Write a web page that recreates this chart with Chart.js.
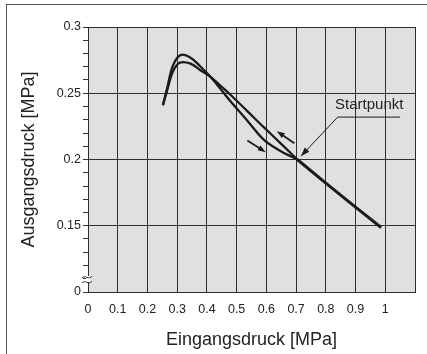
<!DOCTYPE html>
<html>
<head>
<meta charset="utf-8">
<script src="https://cdn.jsdelivr.net/npm/chart.js@4/dist/chart.umd.min.js"></script>
<style>
  html, body { margin: 0; padding: 0; background: #fff; }
  #wrap { position: relative; width: 427px; height: 354px; }
  #frame { position: absolute; left: 6px; top: 4px; right: -2px; bottom: -2px; border-top: 1.5px solid #555; border-left: 1.5px solid #555; pointer-events: none; }
  canvas { position: absolute; left: 0; top: 0; }
</style>
</head>
<body>
<div id="wrap">
  <canvas id="c" width="427" height="354"></canvas>
  <div id="frame"></div>
</div>
<script>
// ---- data ----
// Branch A: higher peak, then lower path down to the start point
const branchAx = [0.252, 0.266, 0.285, 0.311, 0.345, 0.378, 0.412, 0.446, 0.480, 0.536, 0.592, 0.649, 0.704];
const branchAy = [0.241, 0.2535, 0.2705, 0.2788, 0.2768, 0.2702, 0.2624, 0.2532, 0.2437, 0.2293, 0.2148, 0.2062, 0.2000];
// Branch B: lower peak, then upper (straighter) path down to the start point
const branchBx = [0.252, 0.266, 0.285, 0.308, 0.345, 0.378, 0.412, 0.446, 0.480, 0.536, 0.592, 0.649, 0.704];
const branchBy = [0.241, 0.2520, 0.2660, 0.2730, 0.2724, 0.2674, 0.2624, 0.2556, 0.2487, 0.2365, 0.2242, 0.2120, 0.2000];
// Common segment after the start point
const tailX = [0.704, 0.800, 0.900, 0.986];
const tailY = [0.2000, 0.1822, 0.1640, 0.1487];

const xTickLabels = ["0", "0.1", "0.2", "0.3", "0.4", "0.5", "0.6", "0.7", "0.8", "0.9", "1"];
const yTickLabels = { "0.1": "0", "0.15": "0.15", "0.2": "0.2", "0.25": "0.25", "0.3": "0.3" };

const startLabel = "Startpunkt";
const startLabelPos = [0.946, 0.2409];
const startUnderline = [0.84, 1.05, 0.2320];
const startArrowTip = [0.716, 0.2025];
const arrowUp = [0.694, 0.2123, 0.635, 0.2214];   // from x,y to x,y
const arrowDown = [0.536, 0.2143, 0.598, 0.2055];

const xTitle = "Eingangsdruck [MPa]";
const yTitle = "Ausgangsdruck [MPa]";

function pts(xs, ys) { return xs.map((x, i) => ({ x: x, y: ys[i] })); }

const FONT = "'Liberation Sans', Arial, Helvetica, sans-serif";
const LINE = '#1b1b1b';
const GRID = '#2e2e2e';

function isMajorY(v) { return Math.abs(v * 20 - Math.round(v * 20)) < 1e-6; }

const bgPlugin = {
  id: 'bg',
  beforeDraw(chart) {
    const a = chart.chartArea, ctx = chart.ctx;
    ctx.save();
    ctx.fillStyle = '#dfe0e2';
    ctx.fillRect(a.left, a.top, a.right - a.left, a.bottom - a.top);
    ctx.restore();
  }
};

function drawArrowHead(ctx, x1, y1, x2, y2, len, half) {
  const ang = Math.atan2(y2 - y1, x2 - x1);
  ctx.beginPath();
  ctx.moveTo(x2, y2);
  ctx.lineTo(x2 - len * Math.cos(ang) + half * Math.sin(ang), y2 - len * Math.sin(ang) - half * Math.cos(ang));
  ctx.lineTo(x2 - len * Math.cos(ang) - half * Math.sin(ang), y2 - len * Math.sin(ang) + half * Math.cos(ang));
  ctx.closePath();
  ctx.fill();
}

const annoPlugin = {
  id: 'anno',
  afterDraw(chart) {
    const ctx = chart.ctx, xs = chart.scales.x, ys = chart.scales.y;
    const px = v => xs.getPixelForValue(v), py = v => ys.getPixelForValue(v);
    ctx.save();
    ctx.strokeStyle = LINE; ctx.fillStyle = LINE;
    // direction arrows
    [arrowUp, arrowDown].forEach(a => {
      const x1 = px(a[0]), y1 = py(a[1]), x2 = px(a[2]), y2 = py(a[3]);
      const ang = Math.atan2(y2 - y1, x2 - x1);
      ctx.lineWidth = 1.8;
      ctx.beginPath(); ctx.moveTo(x1, y1); ctx.lineTo(x2 - 5 * Math.cos(ang), y2 - 5 * Math.sin(ang)); ctx.stroke();
      drawArrowHead(ctx, x1, y1, x2, y2, 8, 2.8);
    });
    // Startpunkt label + leader
    ctx.lineWidth = 1;
    const ux1 = px(startUnderline[0]), ux2 = px(startUnderline[1]), uy = py(startUnderline[2]);
    const tx = px(startArrowTip[0]), ty = py(startArrowTip[1]);
    ctx.beginPath(); ctx.moveTo(ux2, uy); ctx.lineTo(ux1, uy); ctx.lineTo(tx, ty); ctx.stroke();
    drawArrowHead(ctx, ux1, uy, tx, ty, 9, 3);
    ctx.font = '15px ' + FONT;
    ctx.textAlign = 'center'; ctx.textBaseline = 'middle';
    ctx.fillStyle = '#222';
    ctx.fillText(startLabel, px(startLabelPos[0]), py(startLabelPos[1]));
    // axis break symbol
    const ax = chart.chartArea.left, yb = py(0.1) - 15;
    ctx.fillStyle = '#fff';
    ctx.fillRect(ax - 2, yb - 1, 4, 6);
    ctx.strokeStyle = '#333'; ctx.lineWidth = 1;
    [0, 5].forEach(d => {
      ctx.beginPath();
      ctx.moveTo(ax - 6, yb + d + 1);
      ctx.bezierCurveTo(ax - 3, yb + d - 3, ax + 1, yb + d + 4, ax + 4, yb + d - 1);
      ctx.stroke();
    });
    ctx.restore();
  }
};

new Chart(document.getElementById('c'), {
  type: 'scatter',
  data: {
    datasets: [
      { data: pts(branchAx, branchAy), showLine: true, borderColor: LINE, borderWidth: 2.3, pointRadius: 0, tension: 0.35, fill: false },
      { data: pts(branchBx, branchBy), showLine: true, borderColor: LINE, borderWidth: 2.3, pointRadius: 0, tension: 0.35, fill: false },
      { data: pts(tailX, tailY), showLine: true, borderColor: LINE, borderWidth: 3, pointRadius: 0, tension: 0, fill: false }
    ]
  },
  options: {
    responsive: false,
    animation: false,
    layout: { padding: { top: 27, right: 12, left: 0, bottom: 0 } },
    plugins: { legend: { display: false }, tooltip: { enabled: false } },
    scales: {
      x: {
        type: 'linear', min: 0, max: 1.1,
        afterFit(s) { s.height = 62; },
        border: { display: true, color: GRID, width: 1 },
        grid: { color: GRID, lineWidth: 1, drawTicks: false },
        ticks: {
          stepSize: 0.1, autoSkip: false, maxRotation: 0, padding: 10, color: '#222',
          font: { family: FONT, size: 12.5 },
          callback: v => { const i = Math.round(v * 10); return i < xTickLabels.length ? xTickLabels[i] : ''; }
        },
        title: { display: true, text: xTitle, color: '#222', font: { family: FONT, size: 18 }, padding: { top: 0, bottom: 3 } }
      },
      y: {
        type: 'linear', min: 0.1, max: 0.3,
        afterFit(s) { s.width = 88; },
        border: { display: true, color: GRID, width: 1 },
        grid: {
          color: c => (c.tick && isMajorY(c.tick.value)) ? GRID : 'rgba(0,0,0,0)',
          tickColor: '#333', tickLength: 5, lineWidth: 1
        },
        ticks: {
          stepSize: 0.01, autoSkip: false, padding: 2, color: '#222',
          font: { family: FONT, size: 12.5 },
          callback: v => { const k = (Math.round(v * 100) / 100).toString(); return isMajorY(v) ? (yTickLabels[k] || '') : ''; }
        },
        title: { display: true, text: yTitle, color: '#222', font: { family: FONT, size: 18 }, padding: { top: 18, bottom: 0 } }
      }
    }
  },
  plugins: [bgPlugin, annoPlugin]
});
</script>
</body>
</html>
